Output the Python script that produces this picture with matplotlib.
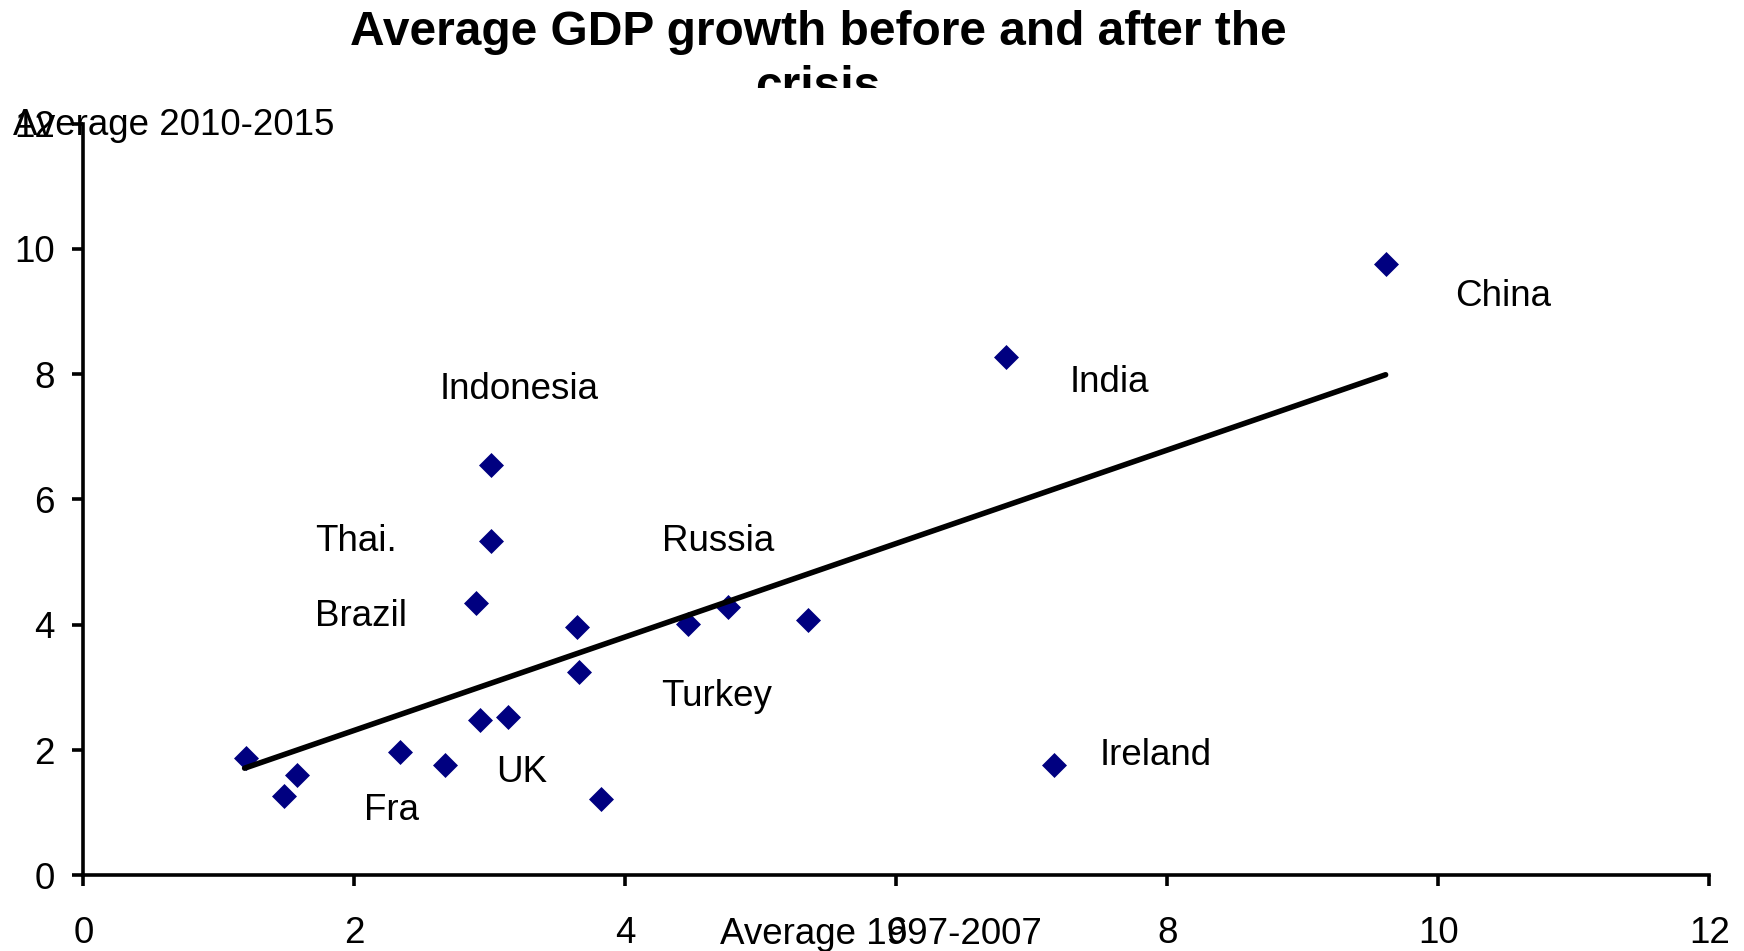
import matplotlib
matplotlib.use('Agg')
import matplotlib.pyplot as plt
from matplotlib.transforms import Bbox, TransformedBbox

# average growth 1997-2007 (x) against 2010-2015 (y), one point per country
growth_before = [1.20, 1.48, 1.58, 2.34, 2.67, 2.90, 2.93, 3.01, 3.01, 3.13,
                 3.64, 3.66, 3.82, 4.46, 4.76, 5.35, 6.81, 7.16, 9.61]
growth_after = [1.87, 1.26, 1.60, 1.97, 1.76, 4.35, 2.48, 6.55, 5.34, 2.53,
                3.97, 3.25, 1.21, 4.01, 4.29, 4.07, 8.28, 1.76, 9.75]

# country labels as placed on the chart (left edge, baseline)
label_names = ['Indonesia', 'Thai.', 'Brazil', 'Russia', 'Turkey', 'UK', 'Fra',
               'India', 'China', 'Ireland']
label_x = [2.63, 1.71, 1.71, 4.27, 4.26, 3.045, 2.07, 7.28, 10.12, 7.50]
label_y = [7.61, 5.17, 3.98, 5.18, 2.70, 1.49, 0.89, 7.71, 9.08, 1.76]

# linear trend line end points
trend_x = [1.19, 9.61]
trend_y = [1.71, 7.99]

ticks = [0, 2, 4, 6, 8, 10, 12]

plt.rcParams['font.family'] = ['Liberation Sans', 'DejaVu Sans']
fs = 26.5

fig = plt.figure(figsize=(17.44, 9.51), dpi=100)
ax = fig.add_axes([0.0478, 0.0796, 0.9324, 0.7905])

diamond = [(0, 1), (1, 0), (0, -1), (-1, 0), (0, 1)]
ax.plot(growth_before, growth_after, linestyle='none', marker=diamond,
        markersize=18, color='#000080', markeredgewidth=0, zorder=2)
ax.plot(trend_x, trend_y, color='black', linewidth=4,
        solid_capstyle='round', zorder=3)

for name, lx, ly in zip(label_names, label_x, label_y):
    ax.text(lx, ly, name, fontsize=fs, ha='left', va='baseline')

ax.set_xlim(0, 12)
ax.set_ylim(0, 12)
ax.set_xticks(ticks)
ax.set_yticks(ticks)
ax.spines['top'].set_visible(False)
ax.spines['right'].set_visible(False)
for s in ['left', 'bottom']:
    ax.spines[s].set_linewidth(2.6)
ax.tick_params(axis='both', direction='out', length=8, width=2.6,
               labelsize=fs)
ax.tick_params(axis='y', pad=12.5)
ax.tick_params(axis='x', pad=21)

# axis titles sit over the tick labels like in the original
fig.text(13 / 1744, 1 - 135 / 951, 'Average 2010-2015', fontsize=fs,
         ha='left', va='baseline')
fig.text(720 / 1744, 1 - 944 / 951, 'Average 1997-2007', fontsize=fs,
         ha='left', va='baseline')

# title, second line cut off
fig.text(0.469, 1 - 45 / 951, 'Average GDP growth before and after the',
         fontsize=34.5, fontweight='bold', ha='center', va='baseline')
t2 = fig.text(0.469, 1 - 100 / 951, 'crisis', fontsize=34.5, fontweight='bold',
              ha='center', va='baseline')
t2.set_clip_box(TransformedBbox(Bbox([[0, 1 - 88 / 951], [1, 1]]),
                                fig.transFigure))
t2.set_clip_on(True)

fig.savefig('out.png', dpi=100)
